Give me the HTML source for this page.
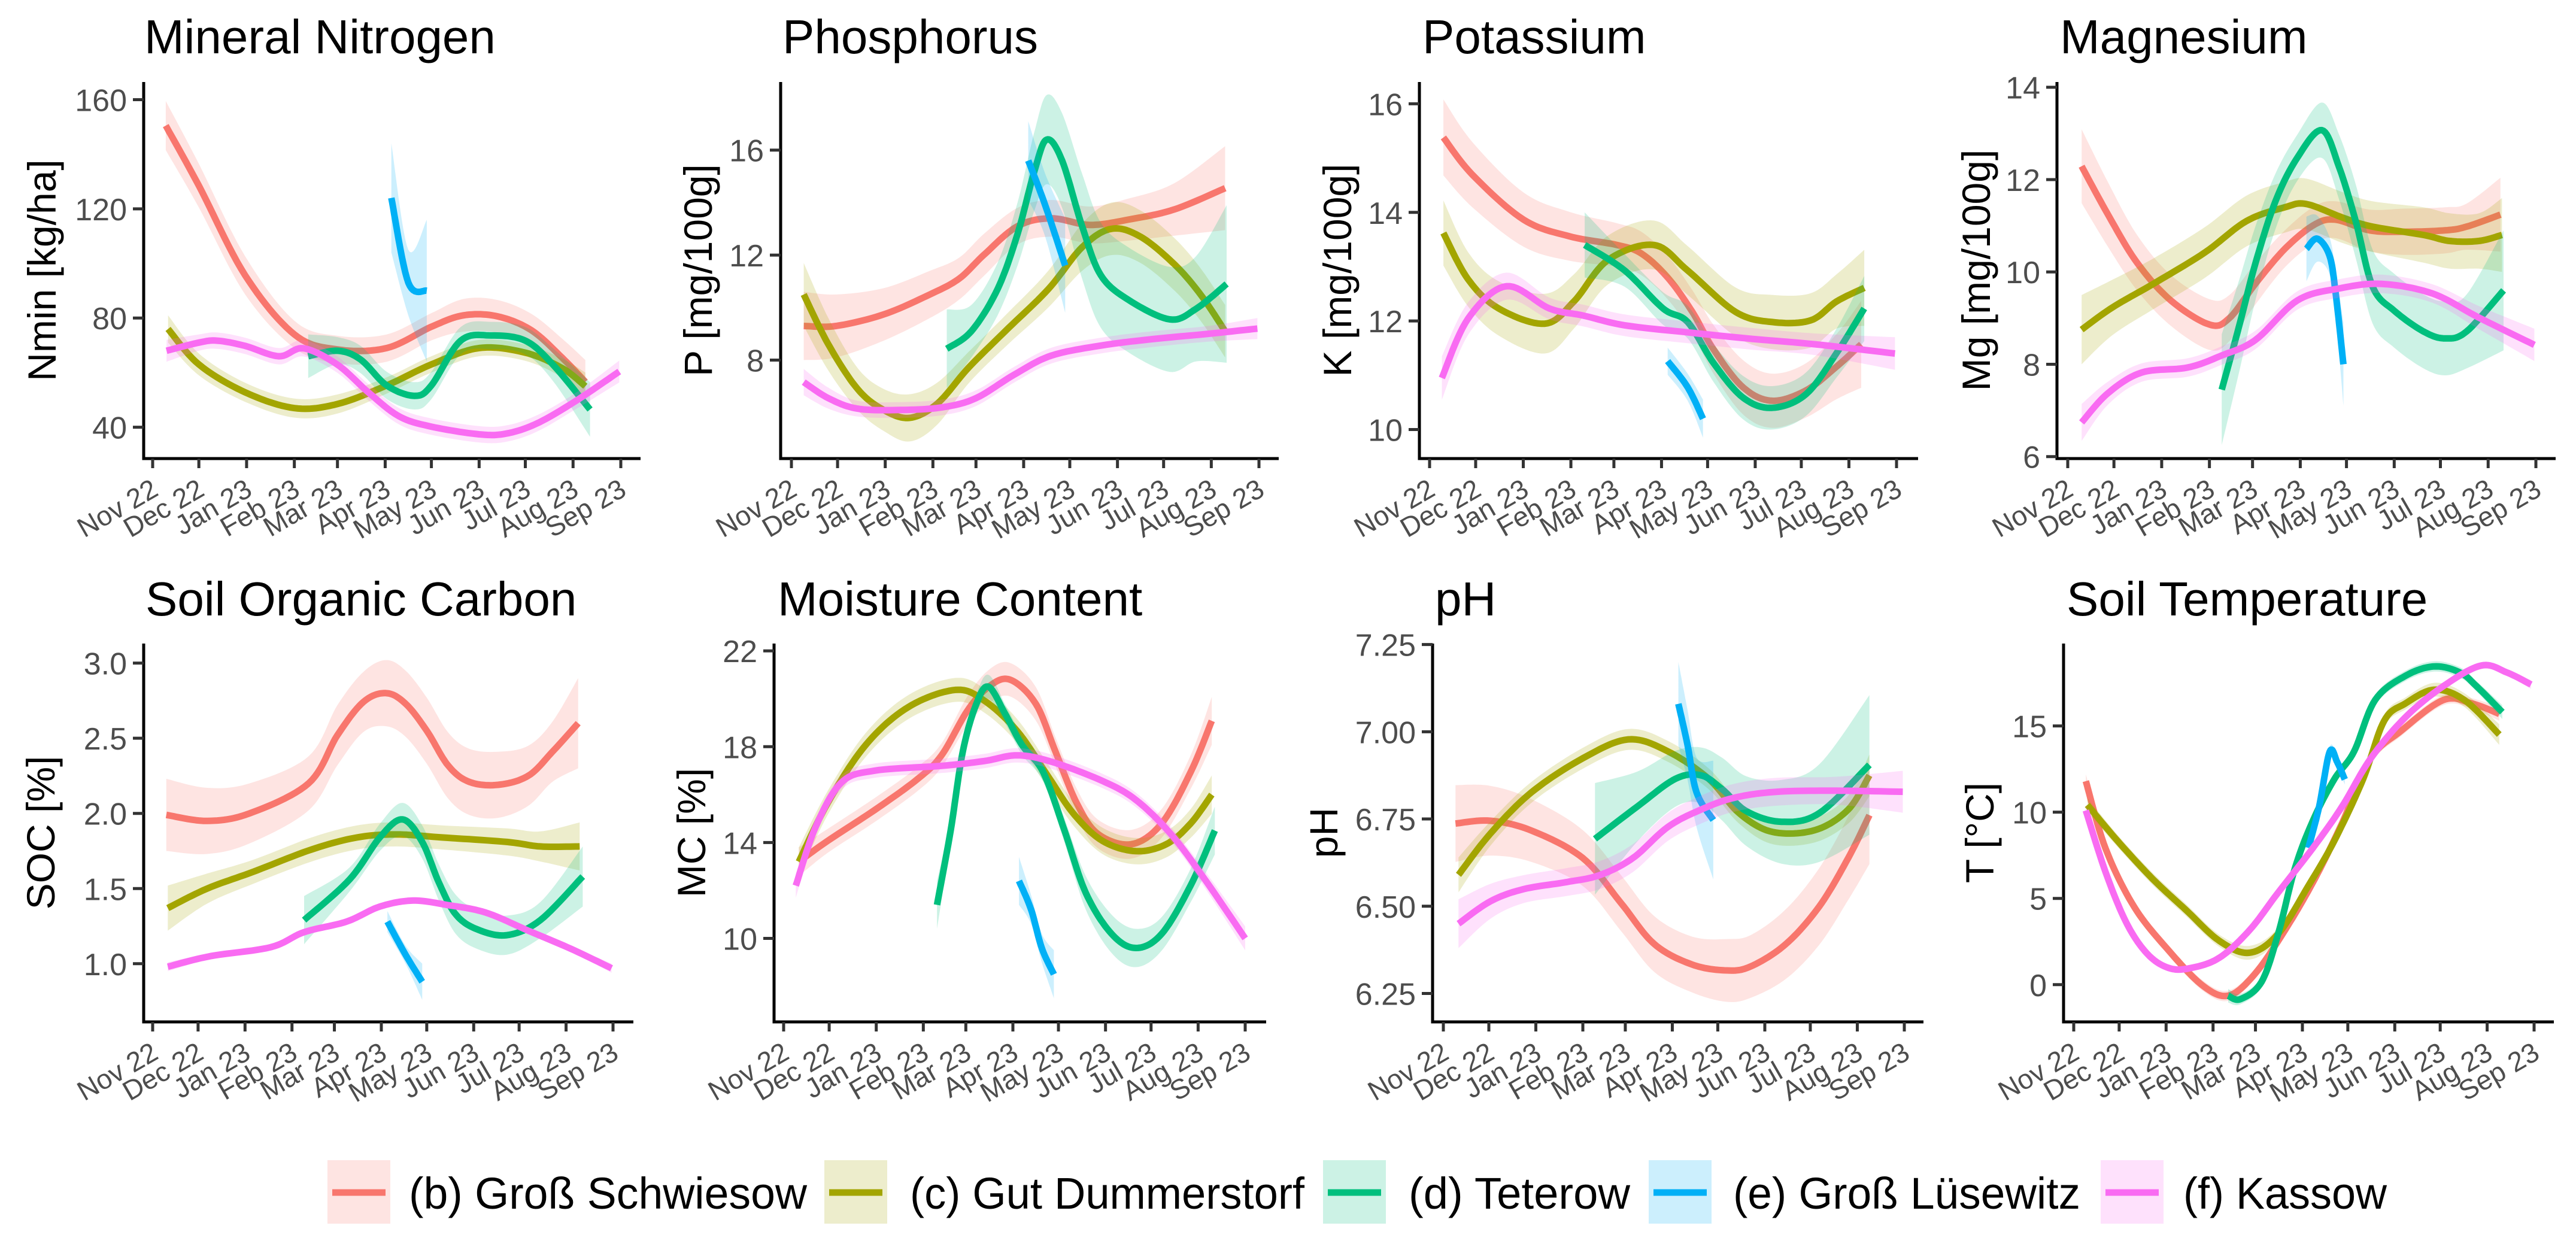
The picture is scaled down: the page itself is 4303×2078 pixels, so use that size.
<!DOCTYPE html>
<html><head><meta charset="utf-8"><title>Soil parameters</title>
<style>html,body{margin:0;padding:0;background:#fff}svg{display:block}</style></head>
<body>
<svg id="chart" xmlns="http://www.w3.org/2000/svg" width="4303" height="2078" viewBox="0 0 4303 2078"></svg>
<script>
// ---------- data ----------
const monthLabels=['Nov 22','Dec 22','Jan 23','Feb 23','Mar 23','Apr 23','May 23','Jun 23','Jul 23','Aug 23','Sep 23'];
const monthDays=[0,30,61,92,120,151,181,212,242,273,304];
const siteNames=['(b) Groß Schwiesow','(c) Gut Dummerstorf','(d) Teterow','(e) Groß Lüsewitz','(f) Kassow'];
const siteColors=['#F8766D','#A3A500','#00BF7D','#00B0F6','#F96BF2'];
// each series: [day since 1 Nov 2022, value, ci half-width]
const nmin_b=[[8.5,150.5,9],[30,128.5,8],[60,95.7,7],[92,74,5],[120,68.5,5],[152,69,5],[181,76.8,5],[202,81,6],[224,80.6,6],[246,75.5,6],[266,65.4,7],[281,56.6,8]];
const nmin_c=[[10,76,5],[30,63,4],[60,52.8,3.5],[92,47,3.5],[120,48.5,3.5],[152,55.3,3],[181,63,3],[212,69,3],[242,67.3,3],[266,61.6,3.5],[281,55,5]];
const nmin_d=[[101,66,8],[120,68,5],[135,64.8,5],[152,55.3,5],[170,51.5,5],[181,55.3,5],[200,71.7,5],[220,73.6,5],[242,71.7,5],[260,62.9,6],[284,46.5,10]];
const nmin_e=[[155,124,20],[166,93,12],[178,90,26]];
const nmin_f=[[9,68,4],[30,71,3],[42,71.7,3],[60,69.8,3],[82,66,3],[98,68.9,3],[120,62.9,3],[140,52.8,3],[160,44,3],[181,40.2,3],[212,37.4,3],[230,37.7,3],[250,41.5,3],[275,49.7,3],[303,60.4,4]];
const p_b=[[8,9.3,1.3],[29,9.3,1.2],[60,9.74,1],[90,10.5,0.9],[109,11.1,0.8],[125,12,0.8],[147,13.1,0.7],[169,13.4,0.7],[194,13.15,0.7],[219,13.35,0.8],[249,13.74,1],[282,14.55,1.6]];
const p_c=[[8,10.5,1.2],[24,8.6,1],[43,6.9,0.8],[60,6.1,0.8],[77,5.8,0.9],[95,6.35,0.8],[115,7.7,0.6],[139,9.1,0.6],[167,10.7,0.7],[189,12.3,0.9],[208,13,1],[227,12.7,1],[249,11.65,1],[266,10.5,1],[282,9.1,1]];
const p_d=[[101,8.43,1.5],[117,9.1,1],[134,10.7,1],[147,12.8,1.2],[158,15.2,1.5],[166,16.4,1.7],[176,15.6,1.8],[189,13.1,2],[201,11.25,2],[219,10.3,2],[246,9.55,2],[263,9.95,2],[283,10.9,3]];
const p_e=[[154,15.6,1.5],[165,13.9,1.2],[178,11.6,1.8]];
const p_f=[[8,7.16,0.5],[24,6.55,0.4],[43,6.15,0.3],[71,6.1,0.3],[98,6.2,0.3],[120,6.55,0.3],[145,7.45,0.3],[169,8.17,0.3],[202,8.56,0.3],[235,8.8,0.3],[271,9,0.3],[303,9.2,0.4]];
const k_b=[[9,15.38,0.7],[28,14.69,0.6],[61,13.87,0.5],[91,13.56,0.45],[122,13.4,0.4],[138,13.24,0.4],[155,12.8,0.4],[171,12.17,0.4],[185,11.47,0.45],[204,10.78,0.5],[223,10.53,0.5],[245,10.72,0.5],[265,11.16,0.6],[281,11.57,0.8]];
const k_c=[[9,13.62,0.6],[25,12.77,0.5],[45,12.23,0.5],[75,11.95,0.55],[94,12.36,0.5],[116,13.12,0.45],[146,13.4,0.45],[168,12.93,0.45],[199,12.17,0.45],[223,11.98,0.5],[248,12.01,0.5],[265,12.36,0.5],[283,12.61,0.7]];
const k_d=[[101,13.4,0.6],[127,12.93,0.3],[152,12.23,0.3],[168,11.98,0.3],[185,11.22,0.35],[204,10.59,0.4],[223,10.4,0.4],[245,10.65,0.4],[265,11.41,0.45],[283,12.23,0.6]];
const k_e=[[155,11.26,0.25],[168,10.78,0.25],[178,10.2,0.35]];
const k_f=[[8,10.95,0.4],[25,12.04,0.3],[50,12.64,0.25],[78,12.23,0.2],[100,12.1,0.2],[127,11.92,0.2],[168,11.79,0.2],[210,11.67,0.2],[251,11.57,0.2],[303,11.4,0.3]];
const mg_b=[[9,12.29,0.8],[26,11.25,0.7],[45,10.2,0.6],[67,9.38,0.55],[92,8.86,0.55],[105,9,0.5],[122,9.75,0.45],[141,10.5,0.4],[160,11.02,0.4],[174,11.13,0.4],[196,10.9,0.45],[218,10.87,0.5],[245,10.9,0.5],[259,10.98,0.5],[281,11.24,0.8]];
const mg_c=[[9,8.75,0.75],[29,9.23,0.6],[56,9.75,0.55],[89,10.42,0.55],[116,11.1,0.55],[141,11.4,0.55],[155,11.47,0.55],[179,11.17,0.55],[198,10.98,0.55],[231,10.8,0.6],[248,10.67,0.6],[267,10.67,0.6],[282,10.8,0.8]];
const mg_d=[[100,7.45,1.2],[111,8.79,1],[122,10.2,0.8],[135,11.54,0.6],[149,12.47,0.5],[165,13.07,0.6],[176,12.29,0.7],[187,11.1,0.8],[198,9.68,0.8],[212,9.16,0.8],[231,8.71,0.8],[245,8.56,0.8],[259,8.71,0.8],[283,9.6,1.3]];
const mg_e=[[155,10.5,0.7],[162,10.72,0.5],[170,10.35,0.4],[174,9.53,0.5],[179,8,0.9]];
const mg_f=[[9,6.74,0.4],[26,7.37,0.25],[48,7.82,0.2],[78,7.93,0.2],[100,8.19,0.2],[122,8.53,0.2],[149,9.38,0.2],[176,9.64,0.2],[204,9.74,0.2],[237,9.53,0.2],[267,9.01,0.25],[303,8.42,0.35]];
const soc_b=[[9,1.99,0.24],[36,1.95,0.22],[64,2,0.2],[103,2.2,0.18],[122,2.52,0.2],[139,2.74,0.2],[154,2.8,0.22],[167,2.73,0.22],[181,2.55,0.22],[195,2.32,0.22],[209,2.21,0.22],[228,2.19,0.22],[248,2.25,0.2],[264,2.41,0.2],[281,2.6,0.3]];
const soc_c=[[10,1.37,0.15],[36,1.5,0.1],[66,1.61,0.08],[105,1.76,0.08],[135,1.84,0.08],[161,1.86,0.08],[191,1.84,0.08],[234,1.81,0.09],[256,1.78,0.1],[282,1.78,0.16]];
const soc_d=[[100,1.29,0.16],[130,1.56,0.08],[150,1.84,0.09],[165,1.96,0.11],[178,1.81,0.11],[189,1.54,0.12],[200,1.33,0.13],[214,1.23,0.13],[234,1.19,0.13],[256,1.29,0.12],[284,1.58,0.2]];
const soc_e=[[155,1.28,0.07],[167,1.06,0.06],[178,0.88,0.12]];
const soc_f=[[10,0.98,0.03],[38,1.05,0.02],[78,1.11,0.02],[100,1.21,0.02],[128,1.28,0.02],[150,1.38,0.02],[172,1.42,0.02],[195,1.39,0.02],[220,1.34,0.02],[248,1.22,0.02],[276,1.1,0.02],[303,0.97,0.03]];
const mc_b=[[10,13.2,0.6],[29,14.07,0.5],[60,15.36,0.5],[88,16.64,0.5],[104,17.64,0.5],[121,19.5,0.6],[135,20.5,0.7],[149,20.8,0.7],[166,19.8,0.7],[179,17.8,0.6],[193,15.65,0.6],[207,14.36,0.6],[229,13.93,0.6],[249,14.8,0.6],[268,16.93,0.7],[282,19.08,1]];
const mc_c=[[10,13.2,0.6],[29,15.65,0.5],[54,18.07,0.5],[82,19.65,0.5],[113,20.37,0.5],[132,19.93,0.5],[154,18.64,0.5],[174,16.78,0.5],[191,15.2,0.5],[210,14.07,0.55],[232,13.64,0.55],[252,13.93,0.55],[268,14.79,0.6],[282,16,0.8]];
const mc_d=[[101,11.4,1],[110,14.5,0.5],[118,17.8,0.4],[127,19.8,0.4],[135,20.5,0.5],[146,19.36,0.4],[157,18.07,0.4],[171,16.93,0.4],[185,14.5,0.5],[199,11.9,0.7],[216,10.19,0.8],[232,9.6,0.8],[249,10.19,0.7],[268,12.2,0.7],[284,14.5,1]];
const mc_e=[[155,12.4,1],[163,11.2,0.6],[170,9.6,0.6],[178,8.5,1]];
const mc_f=[[8,12.2,0.5],[21,14.64,0.35],[38,16.5,0.3],[60,17,0.3],[104,17.2,0.3],[132,17.4,0.3],[154,17.64,0.3],[177,17.36,0.3],[210,16.57,0.3],[232,15.78,0.3],[255,14.36,0.3],[277,12.5,0.35],[304,10,0.5]];
const ph_b=[[8,6.737,0.11],[31,6.745,0.1],[58,6.717,0.09],[92,6.638,0.08],[117,6.51,0.08],[139,6.392,0.08],[164,6.333,0.08],[187,6.316,0.09],[203,6.328,0.09],[226,6.392,0.1],[248,6.5,0.11],[267,6.638,0.12],[281,6.761,0.14]];
const ph_c=[[10,6.59,0.05],[31,6.708,0.035],[58,6.826,0.03],[92,6.924,0.03],[122,6.978,0.03],[148,6.944,0.03],[175,6.865,0.03],[195,6.767,0.03],[217,6.713,0.035],[245,6.718,0.035],[267,6.777,0.04],[281,6.875,0.06]];
const ph_d=[[100,6.693,0.16],[128,6.786,0.1],[153,6.865,0.08],[170,6.875,0.08],[184,6.835,0.09],[200,6.772,0.1],[223,6.742,0.12],[248,6.767,0.14],[281,6.905,0.2]];
const ph_e=[[155,7.08,0.12],[161,6.963,0.1],[167,6.826,0.1],[178,6.747,0.17]];
const ph_f=[[10,6.45,0.07],[31,6.514,0.05],[53,6.549,0.04],[81,6.569,0.04],[103,6.589,0.04],[125,6.638,0.04],[148,6.727,0.04],[170,6.777,0.04],[192,6.811,0.04],[220,6.828,0.04],[259,6.831,0.04],[303,6.828,0.06]];
const t_b=[[8,11.8,0.4],[21,7.9,0.3],[40,4.5,0.3],[63,1.95,0.3],[85,-0.04,0.3],[102,-0.64,0.3],[119,0.56,0.3],[138,2.95,0.3],[158,5.94,0.3],[177,9.32,0.3],[196,13.1,0.3],[216,14.7,0.3],[244,16.5,0.3],[263,16.3,0.3],[281,15.7,0.4]];
const t_c=[[9,10.42,0.4],[29,8.33,0.35],[52,6.14,0.35],[74,4.34,0.35],[96,2.55,0.35],[116,1.85,0.4],[135,2.95,0.35],[155,5.74,0.35],[172,8.33,0.35],[191,11.9,0.35],[205,15.3,0.35],[219,16.3,0.35],[238,17.1,0.4],[258,16.5,0.4],[281,14.5,0.6]];
const t_d=[[102,-0.64,0.4],[110,-0.84,0.3],[124,0.16,0.3],[135,2.95,0.3],[146,6.73,0.3],[158,9.52,0.3],[172,11.9,0.3],[185,13.5,0.3],[199,16.5,0.3],[219,17.9,0.3],[238,18.45,0.3],[255,18.1,0.3],[266,17.3,0.3],[283,15.8,0.4]];
const t_e=[[155,7.93,0.3],[162,10.3,0.3],[169,13.5,0.3],[174,12.9,0.3],[179,11.9,0.3]];
const t_f=[[8,10.1,0.3],[21,6.53,0.2],[35,3.55,0.2],[49,1.75,0.2],[63,0.96,0.2],[77,0.96,0.2],[96,1.55,0.2],[116,3.15,0.2],[135,5.34,0.2],[158,7.93,0.2],[177,10.3,0.2],[196,13.1,0.2],[219,15.5,0.2],[244,17.3,0.2],[269,18.5,0.2],[286,18.1,0.2],[302,17.4,0.25]];

// ---------- layout (pixel geometry, not data) ----------
const panels=[
 {id:'nmin',title:'Mineral Nitrogen',ylab:'Nmin [kg/ha]',series:[nmin_b,nmin_c,nmin_d,nmin_e,nmin_f],ticks:[40,80,120,160],dec:0,L:240,R:1070,T:137,B:766,x0:255,x1:1037,va:40,pa:713.6,vb:160,pb:166.5,tx:241,ty:89,ylx:69},
 {id:'phosphorus',title:'Phosphorus',ylab:'P [mg/100g]',series:[p_b,p_c,p_d,p_e,p_f],ticks:[8,12,16],dec:0,L:1304,R:2136,T:137,B:766,x0:1322,x1:2103,va:8,pa:601.5,vb:16,pb:250.7,tx:1307,ty:89,ylx:1165},
 {id:'potassium',title:'Potassium',ylab:'K [mg/100g]',series:[k_b,k_c,k_d,k_e,k_f],ticks:[10,12,14,16],dec:0,L:2371,R:3204,T:137,B:766,x0:2388,x1:3168,va:10,pa:717.5,vb:16,pb:173.4,tx:2376,ty:89,ylx:2233},
 {id:'magnesium',title:'Magnesium',ylab:'Mg [mg/100g]',series:[mg_b,mg_c,mg_d,mg_e,mg_f],ticks:[6,8,10,12,14],dec:0,L:3436,R:4269,T:137,B:766,x0:3454,x1:4236,va:6,pa:762.7,vb:14,pb:145.7,tx:3441,ty:89,ylx:3300},
 {id:'soc',title:'Soil Organic Carbon',ylab:'SOC [%]',series:[soc_b,soc_c,soc_d,soc_e,soc_f],ticks:[1,1.5,2,2.5,3],dec:1,L:240,R:1058,T:1075,B:1707,x0:255,x1:1024,va:1,pa:1609.8,vb:3,pb:1107.6,tx:243,ty:1028,ylx:67},
 {id:'moisture',title:'Moisture Content',ylab:'MC [%]',series:[mc_b,mc_c,mc_d,mc_e,mc_f],ticks:[10,14,18,22],dec:0,L:1293,R:2115,T:1075,B:1707,x0:1309,x1:2080,va:10,pa:1567.5,vb:22,pb:1087.2,tx:1299,ty:1028,ylx:1154},
 {id:'ph',title:'pH',ylab:'pH',series:[ph_b,ph_c,ph_d,ph_e,ph_f],ticks:[6.25,6.5,6.75,7,7.25],dec:2,L:2393,R:3213,T:1075,B:1707,x0:2411,x1:3181,va:6.25,pa:1659.5,vb:7.25,pb:1076.6,tx:2397,ty:1028,ylx:2210},
 {id:'temperature',title:'Soil Temperature',ylab:'T [°C]',series:[t_b,t_c,t_d,t_e,t_f],ticks:[0,5,10,15],dec:0,L:3447,R:4266,T:1075,B:1707,x0:3464,x1:4233,va:0,pa:1644.8,vb:15,pb:1212.6,tx:3452,ty:1028,ylx:3306}
];

const NS='http://www.w3.org/2000/svg';
const FONT='"Liberation Sans", Arial, sans-serif';
const svg=document.getElementById('chart');
function el(tag,attrs,parent){const e=document.createElementNS(NS,tag);for(const k in attrs)e.setAttribute(k,attrs[k]);(parent||svg).appendChild(e);return e;}
function txt(parent,str,x,y,size,anchor,fill,rot){
  const t=el('text',{x:0,y:0,'font-size':size,'text-anchor':anchor,fill:fill,'font-family':FONT,transform:`translate(${x},${y}) rotate(${rot||0})`},parent);
  t.textContent=str;return t;
}
function smooth(pts,sign){
  const out=[];const n=pts.length;
  const vv=p=>p[1]+sign*p[2];
  for(let i=0;i<n-1;i++){
    const p0=pts[Math.max(i-1,0)],p1=pts[i],p2=pts[i+1],p3=pts[Math.min(i+2,n-1)];
    for(let s=0;s<12;s++){const t=s/12,t2=t*t,t3=t2*t;
      const f=(a,b,c,d)=>0.5*(2*b+(-a+c)*t+(2*a-5*b+4*c-d)*t2+(-a+3*b-3*c+d)*t3);
      out.push([f(p0[0],p1[0],p2[0],p3[0]),f(vv(p0),vv(p1),vv(p2),vv(p3))]);
    }
  }
  const last=pts[n-1];out.push([last[0],vv(last)]);
  return out;
}
const defs=el('defs',{});

panels.forEach((P,pi)=>{
  const g=el('g',{});
  
  
  const xs=d=>P.x0+(d-monthDays[0])*(P.x1-P.x0)/(monthDays[monthDays.length-1]-monthDays[0]);
  const ys=v=>P.pa+(v-P.va)*(P.pb-P.pa)/(P.vb-P.va);
  const cp=el('clipPath',{id:'clip'+pi},defs);
  el('rect',{x:P.L,y:P.T,width:P.R-P.L,height:P.B-P.T},cp);
  const ti=txt(g,P.title,P.tx,P.ty,80,'start','#000');
  
  
  const sg=el('g',{'clip-path':`url(#clip${pi})`},g);
  P.series.forEach((s,si)=>{
    const up=smooth(s,1),lo=smooth(s,-1),mid=smooth(s,0);
    const rib=el('path',{d:'M'+up.map(p=>xs(p[0]).toFixed(1)+','+ys(p[1]).toFixed(1)).join('L')+'L'+lo.reverse().map(p=>xs(p[0]).toFixed(1)+','+ys(p[1]).toFixed(1)).join('L')+'Z',fill:siteColors[si],'fill-opacity':0.2,stroke:'none'},sg);
    
    
    const ln=el('path',{d:'M'+mid.map(p=>xs(p[0]).toFixed(1)+','+ys(p[1]).toFixed(1)).join('L'),fill:'none',stroke:siteColors[si],'stroke-width':11,'stroke-linejoin':'round'},sg);
    
    
  });
  const ax=el('path',{d:`M${P.L},${P.T}V${P.B}H${P.R}`,fill:'none',stroke:'#000','stroke-width':5},g);
  
  
  P.ticks.forEach(v=>{
    const y=ys(v);
    el('line',{x1:P.L-18,x2:P.L,y1:y,y2:y,stroke:'#333','stroke-width':5},g);
    const tl=txt(g,v.toFixed(P.dec),P.L-28,y+19,52,'end','#4D4D4D');
    
    
  });
  monthDays.forEach((d,i)=>{
    const x=xs(d);
    el('line',{x1:x,x2:x,y1:P.B,y2:P.B+16,stroke:'#333','stroke-width':5},g);
    const xl=txt(g,monthLabels[i],x+12,P.B+60,46,'end','#4D4D4D',-30);
    
    
  });
  const yl=txt(g,P.ylab,P.ylx+24,(P.T+P.B)/2,66,'middle','#000',-90);
  
  
});

// legend
const legendKeyX=[547,1377,2210,2754,3509];
const legendTextX=[683,1520,2353,2895,3647];
const legendTextW=[665,659,370,580,340];
const lg=el('g',{});


siteNames.forEach((n,i)=>{
  const eg=el('g',{},lg);
  
  
  el('rect',{x:legendKeyX[i],y:1938,width:105,height:106,fill:siteColors[i],'fill-opacity':0.2},eg);
  el('line',{x1:legendKeyX[i]+8,x2:legendKeyX[i]+97,y1:1992,y2:1992,stroke:siteColors[i],'stroke-width':11},eg);
  const t=el('text',{x:legendTextX[i],y:2019,'font-size':74,'font-family':FONT,fill:'#000',textLength:legendTextW[i],lengthAdjust:'spacingAndGlyphs'},eg);
  t.textContent=n;
});
</script>
</body></html>
